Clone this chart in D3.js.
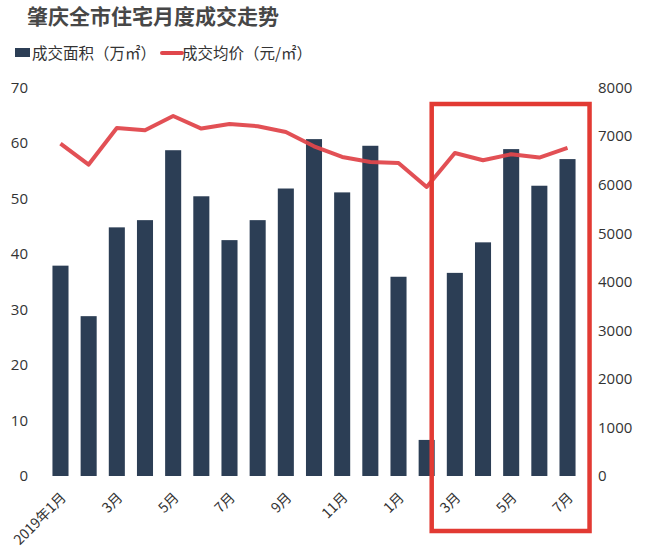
<!DOCTYPE html>
<html><head><meta charset="utf-8">
<script src="https://cdn.jsdelivr.net/npm/d3@7"></script>
<style>
body{margin:0;background:#fff;}
text{font-family:"Open Sans","Noto Sans CJK SC",sans-serif;}
.cjk{font-family:"Noto Sans CJK SC",sans-serif;}
</style></head>
<body>
<svg id="chart" width="650" height="559"></svg>
<script>
const months = ["2019-01","2019-02","2019-03","2019-04","2019-05","2019-06","2019-07","2019-08","2019-09","2019-10","2019-11","2019-12","2020-01","2020-02","2020-03","2020-04","2020-05","2020-06","2020-07"];
const monthLabels = ["2019年1月","","3月","","5月","","7月","","9月","","11月","","1月","","3月","","5月","","7月"];
const area = [37.9,28.8,44.8,46.1,58.7,50.4,42.5,46.1,51.8,60.7,51.1,59.5,35.9,6.5,36.6,42.1,58.9,52.3,57.1];
const price = [6846,6413,7167,7119,7414,7154,7250,7202,7084,6790,6570,6467,6447,5953,6652,6502,6626,6557,6755];
const leftTicks = [0,10,20,30,40,50,60,70];
const rightTicks = [0,1000,2000,3000,4000,5000,6000,7000,8000];
const highlight = ["2020-03","2020-07"];

const svg = d3.select("#chart");
const barColor = "#2c3e55", lineColor = "#e0474c", boxColor = "#e23a33";

const x = d3.scaleBand().domain(months).range([46.4,581.6]).paddingInner(0.43).paddingOuter(0.215);
const yL = d3.scaleLinear().domain([0,70]).range([476,87.5]);
const yR = d3.scaleLinear().domain([0,8000]).range([476,87.5]);

// title
svg.append("text").attr("class","cjk").attr("x",27).attr("y",24)
  .attr("font-size",21).attr("font-weight","bold").attr("fill","#474747")
  .text("肇庆全市住宅月度成交走势");

// legend
svg.append("rect").attr("x",15).attr("y",48).attr("width",15).attr("height",9).attr("fill",barColor);
svg.append("text").attr("class","cjk").attr("x",32).attr("y",58.5).attr("font-size",15.5).attr("fill","#333").text("成交面积（万㎡）");
svg.append("line").attr("x1",162).attr("x2",182).attr("y1",53).attr("y2",53).attr("stroke",lineColor).attr("stroke-width",4).attr("stroke-linecap","round");
svg.append("text").attr("class","cjk").attr("x",182).attr("y",58.5).attr("font-size",15.5).attr("fill","#333").text("成交均价（元/㎡）");

// left axis
const gL = svg.append("g").attr("transform","translate(40,0)")
  .call(d3.axisLeft(yL).tickValues(leftTicks).tickSize(0).tickPadding(12));
gL.select(".domain").remove();
gL.selectAll("text").attr("font-size",15).attr("fill","#333").attr("font-family","'Open Sans',sans-serif");

// right axis
const gR = svg.append("g").attr("transform","translate(588,0)")
  .call(d3.axisRight(yR).tickValues(rightTicks).tickFormat(d3.format("d")).tickSize(0).tickPadding(10));
gR.select(".domain").remove();
gR.selectAll("text").attr("font-size",15).attr("fill","#333").attr("font-family","'Open Sans',sans-serif");

// bars
svg.append("g").selectAll("rect").data(months).join("rect")
  .attr("x",d=>x(d)).attr("width",x.bandwidth())
  .attr("y",(d,i)=>yL(area[i])).attr("height",(d,i)=>yL(0)-yL(area[i]))
  .attr("fill",barColor);

// line
const line = d3.line().x((d,i)=>x(months[i])+x.bandwidth()/2).y(d=>yR(d));
svg.append("path").datum(price).attr("d",line).attr("fill","none")
  .attr("stroke",lineColor).attr("stroke-width",4).attr("stroke-linejoin","round").attr("opacity",0.95);

// x axis labels
const gX = svg.append("g").attr("transform","translate(0,482)")
  .call(d3.axisBottom(x).tickSize(0).tickPadding(0).tickFormat((d,i)=>monthLabels[i]));
gX.select(".domain").remove();
gX.selectAll("text").attr("class","cjk").attr("font-size",14).attr("fill","#333")
  .attr("text-anchor","end").attr("dy","0.35em")
  .attr("transform","translate(3,13) rotate(-45)");

// highlight box
const bx0 = x(highlight[0]) - (x.step()-x.bandwidth()) - 3;
const bx1 = x(highlight[1]) + x.bandwidth() + 14;
svg.append("rect").attr("x",bx0).attr("y",104).attr("width",bx1-bx0).attr("height",427)
  .attr("fill","none").attr("stroke",boxColor).attr("stroke-width",4.5);
</script>
</body></html>
